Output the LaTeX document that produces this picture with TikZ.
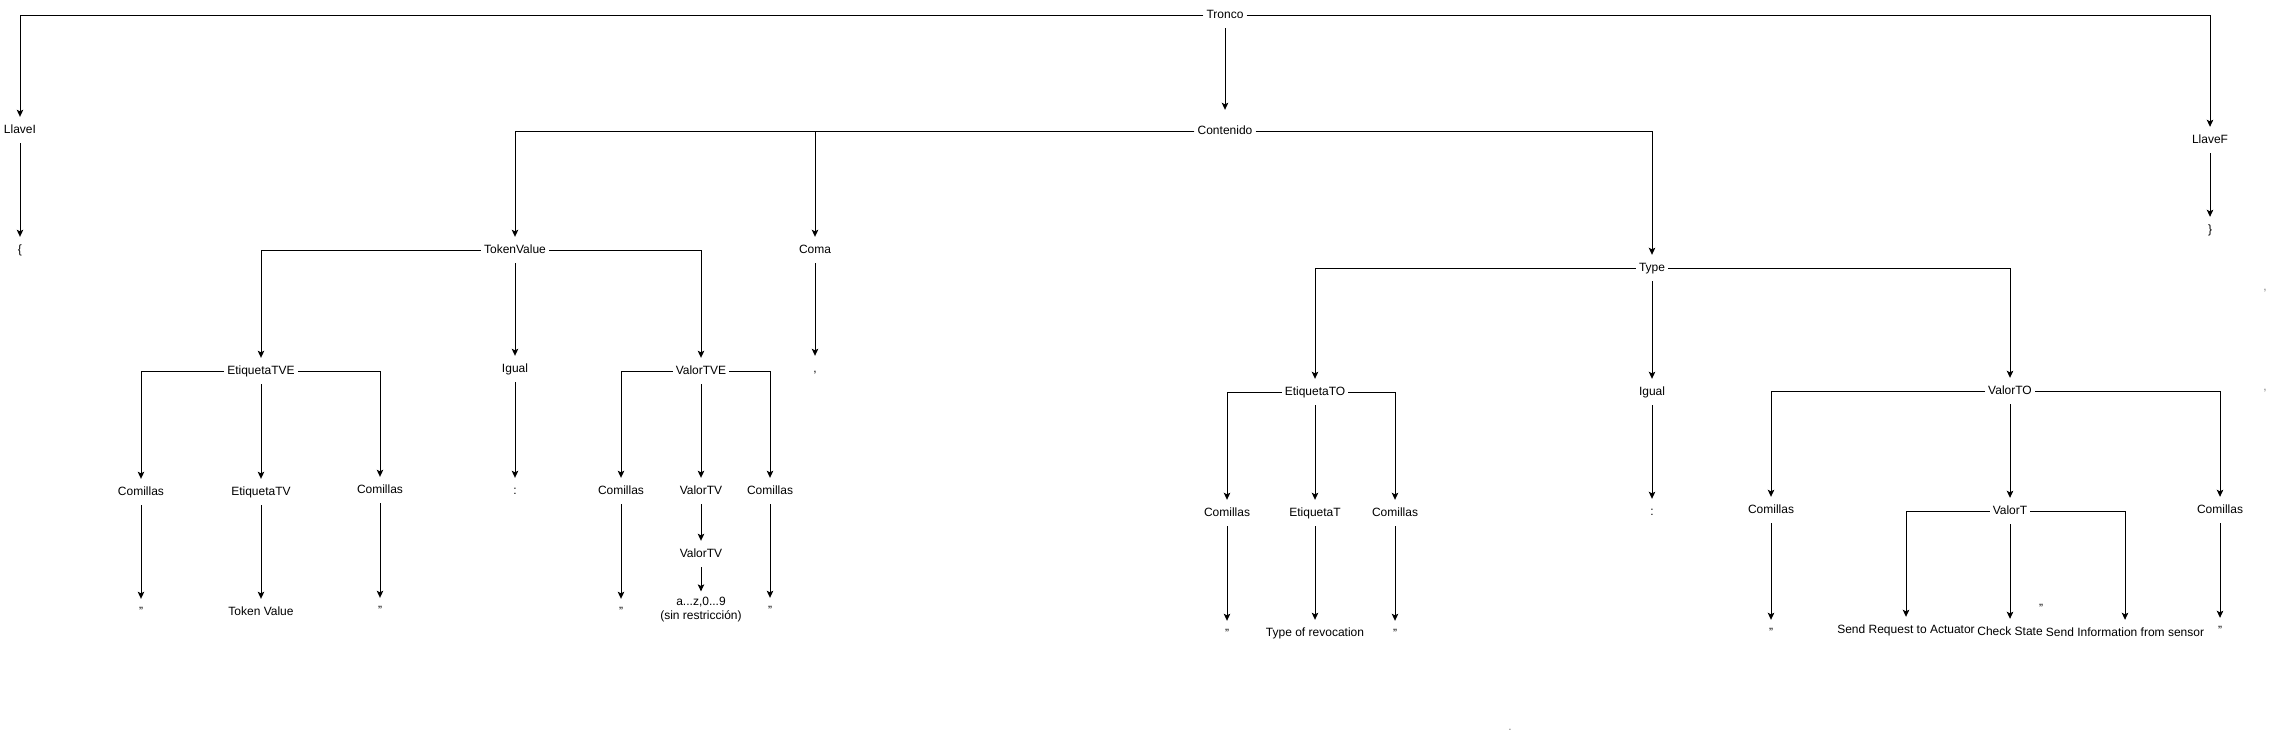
\documentclass[tikz,border=0pt]{standalone}
\usepackage{fontspec}
\setmainfont{Liberation Sans}
\usetikzlibrary{arrows.meta}
\begin{document}
\begin{tikzpicture}[x=1pt,y=-1pt,
  lbl/.style={font=\fontsize{12}{14}\selectfont, text height=9pt, text depth=2.5pt,
              inner xsep=3pt, inner ysep=0pt, minimum height=26pt},
  conn/.style={line width=1pt, -{Stealth[length=7pt,width=6.5pt,inset=1.5pt]}},
  speck/.style={font=\fontsize{12}{14}\selectfont, text=gray, inner sep=0pt}]
\useasboundingbox (0,0) rectangle (2276,742);

% level 0/1
\node[lbl] (tronco) at (1225,15) {Tronco};
\node[lbl] (llaveI) at (20,130) {LlaveI};
\node[lbl] (lbrace) at (20,250) {\{};
\node[lbl] (llaveF) at (2210,140) {LlaveF};
\node[lbl] (rbrace) at (2210,230) {\}};
\node[lbl,minimum height=42pt] (contenido) at (1225,131) {Contenido};

% level 2
\node[lbl] (tokenvalue) at (515,250) {TokenValue};
\node[lbl] (coma) at (815,250) {Coma};
\node[lbl] (comma) at (815,369) {,};
\node[lbl] (type) at (1652,268) {Type};

% TokenValue subtree
\node[lbl] (etqTVE) at (261,371) {EtiquetaTVE};
\node[lbl] (igualA) at (515,369) {Igual};
\node[lbl] (valorTVE) at (701,371) {ValorTVE};

\node[lbl] (com1) at (141,492) {Comillas};
\node[lbl] (q1) at (141,612) {"};
\node[lbl] (etqTV) at (261,492) {EtiquetaTV};
\node[lbl] (tokval) at (261,612) {Token Value};
\node[lbl] (com2) at (380,490) {Comillas};
\node[lbl] (q2) at (380,611) {"};

\node[lbl] (colonA) at (515,491) {:};

\node[lbl] (com3) at (621,491) {Comillas};
\node[lbl] (q3) at (621,612) {"};
\node[lbl] (valorTV1) at (701,491) {ValorTV};
\node[lbl] (valorTV2) at (701,554) {ValorTV};
\node[font=\fontsize{12}{14}\selectfont, align=center, inner xsep=3pt, inner ysep=6pt] (az) at (701,610) {a...z,0...9\\(sin restricción)};
\node[lbl] (com4) at (770,491) {Comillas};
\node[lbl] (q4) at (770,611) {"};

% Type subtree
\node[lbl] (etqTO) at (1315,392) {EtiquetaTO};
\node[lbl] (igualB) at (1652,392) {Igual};
\node[lbl] (valorTO) at (2010,391) {ValorTO};

\node[lbl] (com5) at (1227,513) {Comillas};
\node[lbl] (q5) at (1227,634) {"};
\node[lbl] (etqT) at (1315,513) {EtiquetaT};
\node[lbl] (typerev) at (1315,633) {Type of revocation};
\node[lbl] (com6) at (1395,513) {Comillas};
\node[lbl] (q6) at (1395,634) {"};

\node[lbl] (colonB) at (1652,512) {:};

\node[lbl] (com7) at (1771,510) {Comillas};
\node[lbl] (q7) at (1771,633) {"};
\node[lbl] (valorT) at (2010,511) {ValorT};
\node[lbl] (sendreq) at (1906,630) {Send Request to Actuator};
\node[lbl] (check) at (2010,632) {Check State};
\node[lbl] (sendinfo) at (2125,633) {Send Information from sensor};
\node[lbl] (com8) at (2220,510) {Comillas};
\node[lbl] (q8) at (2220,631) {"};

% stray marks
\node[lbl] (strayq) at (2041,609) {"};
\node[speck] (speckA) at (2265,291) {,};
\node[speck] (speckB) at (2265,391) {,};
\node[speck] (speckC) at (1510,730) {.};

% connectors
\draw[conn] (tronco.west) -| (llaveI.north);
\draw[conn] (tronco.east) -| (llaveF.north);
\draw[conn] (tronco) -- (contenido);
\draw[conn] (llaveI) -- (lbrace);
\draw[conn] (llaveF) -- (rbrace);

\draw[conn] (contenido.west) -| (tokenvalue.north);
\draw[conn] (contenido.west) -| (coma.north);
\draw[conn] (contenido.east) -| (type.north);
\draw[conn] (coma) -- (comma);

\draw[conn] (tokenvalue.west) -| (etqTVE.north);
\draw[conn] (tokenvalue) -- (igualA);
\draw[conn] (tokenvalue.east) -| (valorTVE.north);

\draw[conn] (etqTVE.west) -| (com1.north);
\draw[conn] (etqTVE) -- (etqTV);
\draw[conn] (etqTVE.east) -| (com2.north);
\draw[conn] (com1) -- (q1);
\draw[conn] (etqTV) -- (tokval);
\draw[conn] (com2) -- (q2);
\draw[conn] (igualA) -- (colonA);

\draw[conn] (valorTVE.west) -| (com3.north);
\draw[conn] (valorTVE) -- (valorTV1);
\draw[conn] (valorTVE.east) -| (com4.north);
\draw[conn] (com3) -- (q3);
\draw[conn] (valorTV1) -- (valorTV2);
\draw[conn] (valorTV2) -- (az);
\draw[conn] (com4) -- (q4);

\draw[conn] (type.west) -| (etqTO.north);
\draw[conn] (type) -- (igualB);
\draw[conn] (type.east) -| (valorTO.north);

\draw[conn] (etqTO.west) -| (com5.north);
\draw[conn] (etqTO) -- (etqT);
\draw[conn] (etqTO.east) -| (com6.north);
\draw[conn] (com5) -- (q5);
\draw[conn] (etqT) -- (typerev);
\draw[conn] (com6) -- (q6);
\draw[conn] (igualB) -- (colonB);

\draw[conn] (valorTO.west) -| (com7.north);
\draw[conn] (valorTO) -- (valorT);
\draw[conn] (valorTO.east) -| (com8.north);
\draw[conn] (com7) -- (q7);
\draw[conn] (com8) -- (q8);
\draw[conn] (valorT.west) -| (sendreq.north);
\draw[conn] (valorT) -- (check);
\draw[conn] (valorT.east) -| (sendinfo.north);
\end{tikzpicture}
\end{document}
